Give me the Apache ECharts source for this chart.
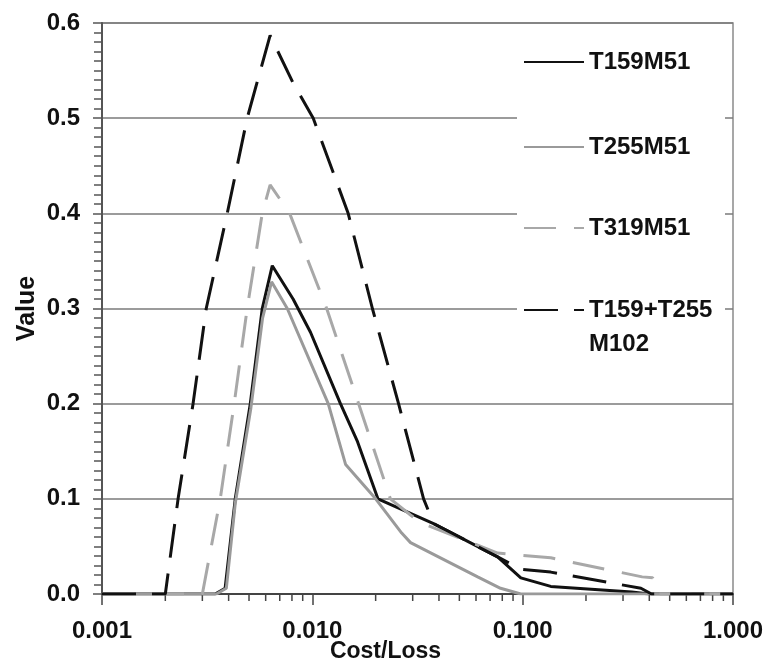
<!DOCTYPE html>
<html>
<head>
<meta charset="utf-8">
<script src="https://cdn.jsdelivr.net/npm/echarts@6/dist/echarts.min.js"></script>
<style>
  html, body { margin: 0; padding: 0; background: #fff; }
  #chart { width: 765px; height: 663px; }
</style>
</head>
<body>
<div id="chart"></div>
<script>
// values (x = cost/loss ratio, y = value)
let t159CostLoss = [0.001, 0.00345, 0.00385, 0.0043, 0.00507, 0.00578, 0.00645, 0.0081, 0.0098, 0.0136, 0.0164, 0.0205, 0.0377, 0.076, 0.098, 0.136, 0.33, 0.4, 1.0];
let t159Values = [0, 0, 0.006, 0.1, 0.2, 0.3, 0.345, 0.31, 0.275, 0.2, 0.16, 0.1, 0.074, 0.039, 0.017, 0.008, 0.002, 0, 0];

let t255CostLoss = [0.001, 0.0035, 0.0039, 0.0043, 0.0051, 0.0058, 0.0064, 0.0076, 0.0119, 0.0144, 0.02, 0.0266, 0.0293, 0.0611, 0.0785, 0.098, 1.0];
let t255Values = [0, 0, 0.006, 0.095, 0.195, 0.29, 0.328, 0.3, 0.2, 0.136, 0.1, 0.064, 0.054, 0.018, 0.006, 0, 0];

let t319CostLoss = [0.001, 0.003, 0.00365, 0.00425, 0.0049, 0.00578, 0.0063, 0.0078, 0.0117, 0.0166, 0.0235, 0.0293, 0.0327, 0.076, 0.136, 0.37, 0.415, 0.44, 1.0];
let t319Values = [0, 0, 0.1, 0.2, 0.3, 0.4, 0.43, 0.4, 0.3, 0.2, 0.1, 0.083, 0.075, 0.043, 0.038, 0.018, 0.017, 0, 0];

let m102CostLoss = [0.001, 0.002, 0.0023, 0.00271, 0.00313, 0.00394, 0.0049, 0.0063, 0.0081, 0.0101, 0.0148, 0.0193, 0.0257, 0.0338, 0.0377, 0.076, 0.098, 0.136, 0.365, 0.41, 1.0];
let m102Values = [0, 0, 0.1, 0.2, 0.3, 0.4, 0.5, 0.587, 0.537, 0.5, 0.4, 0.3, 0.2, 0.1, 0.074, 0.039, 0.026, 0.023, 0.006, 0, 0];

let seriesNames = ["T159M51", "T255M51", "T319M51", "T159+T255 M102"];

// log axis minor tick positions
let minorTicks = [0.002, 0.003, 0.004, 0.005, 0.006, 0.007, 0.008, 0.009,
  0.02, 0.03, 0.04, 0.05, 0.06, 0.07, 0.08, 0.09,
  0.2, 0.3, 0.4, 0.5, 0.6, 0.7, 0.8, 0.9];

const font = "'Liberation Sans', Arial, sans-serif";

function zip(xs, ys) {
  return xs.map((x, i) => [x, ys[i]]);
}

let chart = echarts.init(document.getElementById("chart"));

function lineSerie(name, xs, ys, color, dash) {
  return {
    name: name,
    type: "line",
    symbol: "none",
    data: zip(xs, ys),
    lineStyle: { color: color, width: 3, type: dash || "solid" },
    itemStyle: { color: color },
    z: 3,
  };
}

// one legend per entry so each can sit where the picture has it
function legendAt(name, top, lineHeight, formatter) {
  return {
    data: [name],
    orient: "vertical",
    left: 523,
    top: top,
    padding: 0,
    itemWidth: 60,
    itemHeight: 14,
    itemStyle: { opacity: 0 },
    formatter: formatter,
    textStyle: {
      fontFamily: font,
      fontSize: 24,
      fontWeight: "bold",
      color: "#111",
      lineHeight: lineHeight,
    },
  };
}

let option = {
  animation: false,
  backgroundColor: "#fff",
  grid: {
    left: 102,
    right: 32,
    top: 23,
    bottom: 69,
    outerBoundsMode: "none",
    show: true,
    borderColor: "#8a8a8a",
    borderWidth: 1.5,
  },
  graphic: [
    {
      type: "rect",
      left: 517,
      top: 40,
      shape: { width: 208, height: 310 },
      style: { fill: "#fff" },
      z: 1,
    },
  ],
  legend: [
    legendAt(seriesNames[0], 48, 28),
    legendAt(seriesNames[1], 133, 28),
    legendAt(seriesNames[2], 214, 28),
    legendAt(seriesNames[3], 259, 34, () => "\nT159+T255\nM102"),
  ],
  xAxis: {
    type: "log",
    logBase: 10,
    min: 0.001,
    max: 1,
    name: "Cost/Loss",
    nameLocation: "middle",
    nameGap: 46,
    nameMoveOverlap: false,
    nameTextStyle: {
      fontFamily: font,
      fontSize: 23,
      fontWeight: "bold",
      color: "#111",
      padding: [0, 64, 0, 0],
    },
    axisLine: { lineStyle: { color: "#444", width: 2 } },
    axisTick: { length: 11, lineStyle: { color: "#444", width: 1.5 } },
    axisLabel: {
      margin: 25,
      fontFamily: font,
      fontSize: 24,
      fontWeight: "bold",
      color: "#111",
      formatter: (v) => v.toFixed(3),
    },
    splitLine: { show: false },
  },
  yAxis: {
    type: "value",
    min: 0,
    max: 0.6,
    interval: 0.1,
    name: "Value",
    nameLocation: "middle",
    nameGap: 62,
    nameMoveOverlap: false,
    nameTextStyle: {
      fontFamily: font,
      fontSize: 25,
      fontWeight: "bold",
      color: "#111",
    },
    axisLine: { show: true, lineStyle: { color: "#555", width: 2 } },
    axisTick: { show: true, length: 9, lineStyle: { color: "#555", width: 1.5 } },
    minorTick: { show: true, splitNumber: 10, length: 8, lineStyle: { color: "#555", width: 1.5 } },
    axisLabel: {
      margin: 22,
      fontFamily: font,
      fontSize: 24,
      fontWeight: "bold",
      color: "#111",
      formatter: (v) => v.toFixed(1),
    },
    splitLine: { show: true, lineStyle: { color: "#7a7a7a", width: 1.5 } },
  },
  series: [
    lineSerie(seriesNames[0], t159CostLoss, t159Values, "#111"),
    lineSerie(seriesNames[1], t255CostLoss, t255Values, "#9a9a9a"),
    lineSerie(seriesNames[2], t319CostLoss, t319Values, "#a8a8a8", [32, 18]),
    lineSerie(seriesNames[3], m102CostLoss, m102Values, "#111", [34, 16]),
    {
      name: "minorTicks",
      type: "custom",
      silent: true,
      clip: false,
      data: minorTicks.map((v) => [v, 0]),
      renderItem: (params, api) => {
        const p = api.coord([api.value(0), 0]);
        return {
          type: "line",
          shape: { x1: p[0], y1: p[1], x2: p[0], y2: p[1] + 7 },
          style: { stroke: "#444", lineWidth: 1.5 },
        };
      },
      z: 1,
    },
  ],
};

chart.setOption(option);
</script>
</body>
</html>
